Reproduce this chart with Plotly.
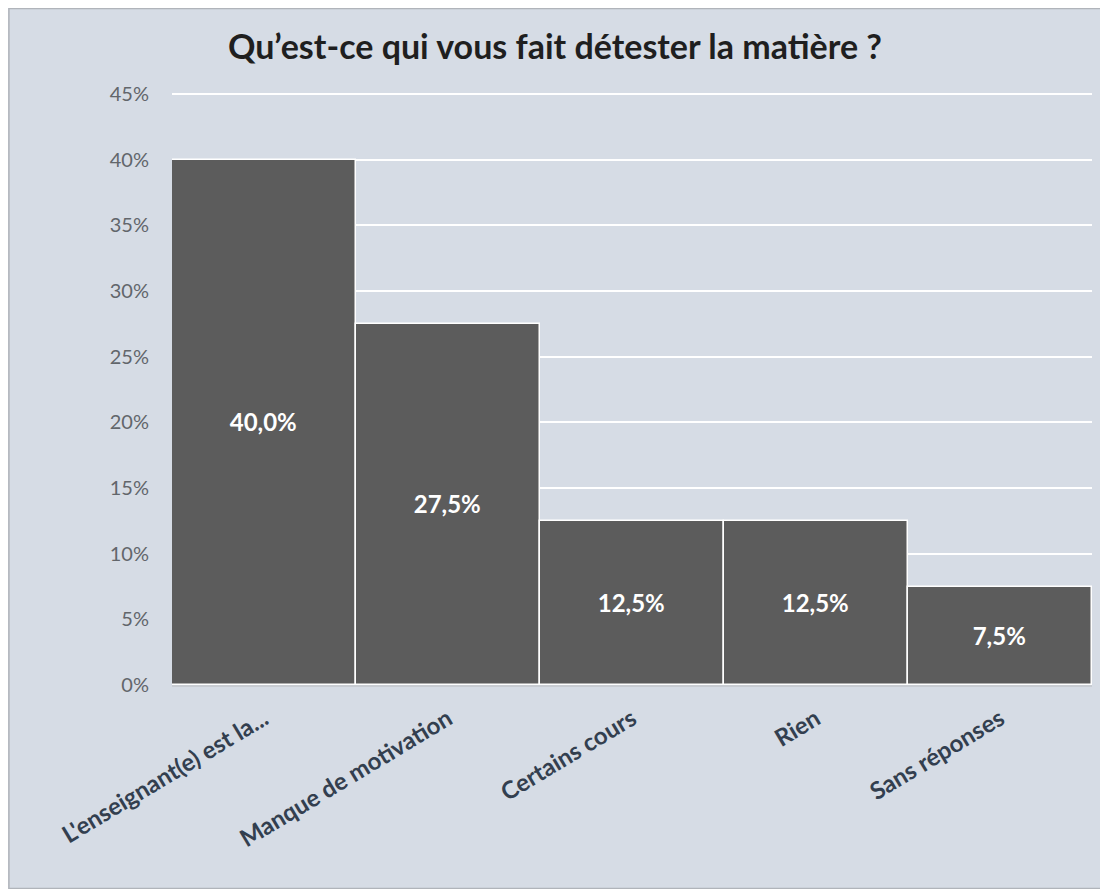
import plotly.graph_objects as go

categories = ["L'enseignant(e) est la...", "Manque de motivation", "Certains cours", "Rien", "Sans réponses"]
values = [40.0, 27.5, 12.5, 12.5, 7.5]
y_ticks = [0, 5, 10, 15, 20, 25, 30, 35, 40, 45]

labels = [f"{v:.1f}%".replace(".", ",") for v in values]

# page body adds an 8px offset, so the figure is sized to end where the reference frame ends
W, H = 1095, 881
ML, MR, MT, MB = 164, 11, 85, 204
pw, ph = W - ML - MR, H - MT - MB

fig = go.Figure(go.Bar(
    x=categories,
    y=values,
    text=labels,
    textposition="inside",
    insidetextanchor="middle",
    textfont=dict(family="Lato", size=24, color="white", weight="bold"),
    marker=dict(color="#5c5c5c", line=dict(color="white", width=1.5)),
    hoverinfo="skip",
))

fig.update_layout(
    width=W,
    height=H,
    paper_bgcolor="#d6dce5",
    plot_bgcolor="rgba(0,0,0,0)",
    margin=dict(l=ML, r=MR, t=MT, b=MB),
    bargap=0,
    showlegend=False,
    title=dict(
        text="Qu’est-ce qui vous fait détester la matière ?",
        x=0.4995, xref="container", xanchor="center",
        y=0.9557, yref="container", yanchor="middle",
        font=dict(family="Lato", size=34, color="#1f1f1f", weight="bold"),
    ),
    shapes=[dict(
        type="rect", xref="paper", yref="paper", layer="below",
        x0=-ML / pw + 0.001, x1=1 + MR / pw - 0.001,
        y0=-MB / ph + 0.001, y1=1 + MT / ph - 0.001,
        line=dict(color="#b0b4ba", width=1.5),
    )],
)

fig.update_yaxes(
    range=[0, 45.08],
    tickvals=y_ticks,
    ticktext=[f"{t}%" for t in y_ticks],
    showgrid=True, gridcolor="white", gridwidth=1.5,
    zeroline=False,
    tickfont=dict(family="Lato", size=20, color="#62666b"),
    ticks="outside", ticklen=18, tickcolor="rgba(0,0,0,0)",
)
fig.update_xaxes(
    tickangle=-31,
    tickfont=dict(family="Lato", size=24, color="#333f4f", weight="bold"),
    showline=True, linecolor="#c8ccd2", linewidth=1.5,
    ticks="outside", ticklen=9, tickcolor="rgba(0,0,0,0)",
)

fig.write_html("out.html")
